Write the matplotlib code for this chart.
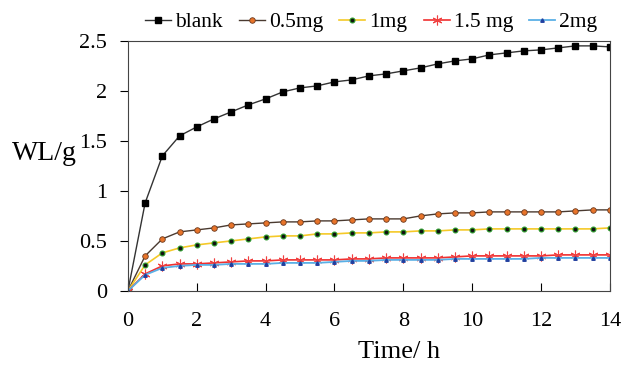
import numpy as np
import matplotlib
matplotlib.use("Agg")
import matplotlib.pyplot as plt

matplotlib.rc("font", family="Liberation Serif")

time_h = np.arange(0, 14.01, 0.5)
blank = [0, 0.88, 1.35, 1.55, 1.64, 1.72, 1.79, 1.86, 1.92, 1.99, 2.03, 2.05, 2.09, 2.11,
         2.15, 2.17, 2.20, 2.23, 2.27, 2.30, 2.32, 2.36, 2.38, 2.40, 2.41, 2.43, 2.45, 2.45, 2.44]
mg05 = [0, 0.35, 0.52, 0.59, 0.61, 0.63, 0.66, 0.67, 0.68, 0.69, 0.69, 0.70, 0.70, 0.71,
        0.72, 0.72, 0.72, 0.75, 0.77, 0.78, 0.78, 0.79, 0.79, 0.79, 0.79, 0.79, 0.80, 0.81, 0.81]
mg1 = [0, 0.26, 0.38, 0.43, 0.46, 0.48, 0.50, 0.52, 0.54, 0.55, 0.55, 0.57, 0.57, 0.58,
       0.58, 0.59, 0.59, 0.60, 0.60, 0.61, 0.61, 0.62, 0.62, 0.62, 0.62, 0.62, 0.62, 0.62, 0.63]
mg15 = [0, 0.17, 0.25, 0.27, 0.27, 0.28, 0.29, 0.30, 0.30, 0.31, 0.31, 0.31, 0.31, 0.32,
        0.32, 0.33, 0.33, 0.33, 0.33, 0.34, 0.35, 0.35, 0.35, 0.35, 0.35, 0.36, 0.36, 0.36, 0.36]
mg2 = [0, 0.16, 0.23, 0.25, 0.26, 0.26, 0.27, 0.27, 0.27, 0.28, 0.28, 0.28, 0.29, 0.30,
       0.30, 0.31, 0.31, 0.31, 0.31, 0.32, 0.32, 0.32, 0.32, 0.32, 0.33, 0.33, 0.33, 0.33, 0.33]

fig = plt.figure(figsize=(6.21, 3.65), dpi=100)
ax = fig.add_axes([0.206, 0.203, 0.776, 0.685])

ax.plot(time_h, blank, color='#333333', lw=1, marker='s', ms=5, mfc='black', mec='black', label='blank')
ax.plot(time_h, mg05, color='#4a3a30', lw=1, marker='o', ms=4, mfc='#e8742a', mec='#6a3a20', mew=0.6, label='0.5mg')
ax.plot(time_h, mg1, color='#f5c928', lw=1.2, marker='o', ms=3.5, mfc='#111111', mec='#2a9a2a', mew=0.8, label='1mg')
ax.plot(time_h, mg15, color='#f03030', lw=1.2, marker=(6, 2, 0), ms=7, mec='#f04040', mew=0.8, label='1.5 mg')
ax.plot(time_h, mg2, color='#5ab0e6', lw=1.3, marker='^', ms=2.5, mfc='#2040a0', mec='#2040a0', label='2mg')

ax.set_xlim(0, 14)
ax.set_ylim(0, 2.5)
ax.set_xticks(np.arange(0, 15, 2))
ax.set_yticks([0, 0.5, 1, 1.5, 2, 2.5])
ax.set_yticklabels(['0', '0.5', '1', '1.5', '2', '2.5'])
ax.tick_params(axis='x', direction='in', length=6, labelsize=16, pad=15)
ax.tick_params(axis='y', direction='out', length=6, labelsize=16, pad=9)
for s in ax.spines.values():
    s.set_color('#444444')

fig.text(0.643, 0.035, 'Time/ h', fontsize=19, ha='center', va='center')
fig.text(0.02, 0.58, 'WL/g', fontsize=20, ha='left', va='center')

ax.legend(loc='lower center', bbox_to_anchor=(0.505, 1.0), ncol=5, frameon=False,
          fontsize=15.5, handlelength=1.2, handletextpad=0.2, columnspacing=0.75, borderaxespad=0)

fig.savefig('out.png', dpi=100)
